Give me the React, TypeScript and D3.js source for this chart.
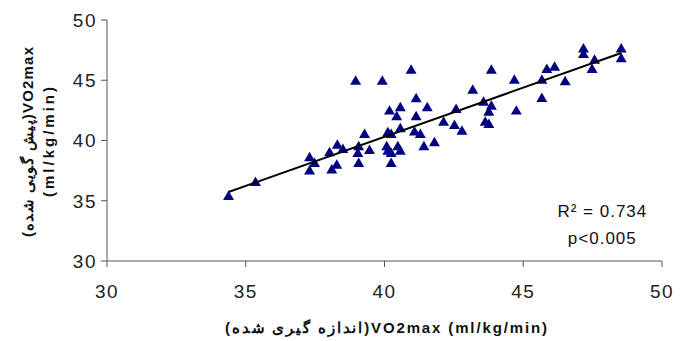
import React from "react";
import { scaleLinear, symbol, symbolTriangle, line } from "d3";

const width = 682;
const height = 341;
const margin = { top: 20, right: 20, bottom: 80, left: 107 };

// measured VO2max (x) vs predicted VO2max (y)
const xMeasured = [
    38.96, 39.92, 40.96, 43.85, 43.18, 41.14, 40.18, 40.57, 41.54, 40.44,
    41.14, 42.58, 43.57, 43.85, 43.76, 42.13, 42.52, 42.79, 43.63, 43.76,
    39.28, 40.12, 40.24, 40.57, 41.08, 41.29, 41.8, 41.42, 38.3, 38.02,
    38.5, 39.07, 39.04, 39.46, 40.08, 40.12, 40.48, 40.57, 40.24, 37.3,
    37.48, 37.3, 38.1, 38.28, 39.07, 40.24, 44.68, 45.85, 46.13, 45.67,
    46.51, 45.67, 47.17, 47.17, 47.57, 47.48, 48.53, 48.53, 44.75, 34.38,
    35.35,
];
const yPredicted = [
    44.89, 44.89, 45.8, 45.8, 44.15, 43.43, 42.41, 42.69, 42.69, 41.94,
    41.94, 42.55, 43.15, 42.82, 42.32, 41.49, 41.22, 40.75, 41.49, 41.3,
    40.48, 40.62, 40.48, 40.95, 40.67, 40.48, 39.79, 39.46, 39.57, 38.96,
    39.23, 39.46, 38.9, 39.15, 39.46, 39.09, 39.46, 39.09, 38.9, 38.55,
    38.07, 37.44, 37.52, 37.91, 38.07, 38.07, 44.97, 45.86, 46.05, 44.97,
    44.84, 43.46, 47.57, 47.1, 46.63, 45.86, 47.57, 46.75, 42.41, 35.32,
    36.48,
];

// trend line
const fitSlope = 0.815;
const fitIntercept = 7.71;

const xTicks = [30, 35, 40, 45, 50];
const yTicks = [30, 35, 40, 45, 50];

const xTitle = "(اندازه گیری شده)VO2max (ml/kg/min)";
const yTitle1 = "(پیش گویی شده)VO2max";
const yTitle2 = "(ml/kg/min)";
const statLines = ["R² = 0.734", "p<0.005"];

const App = () => {
    const innerWidth = 662 - margin.left;
    const innerHeight = 261 - margin.top;

    const xScale = scaleLinear().domain([30, 50]).range([0, innerWidth]);
    const yScale = scaleLinear().domain([30, 50]).range([innerHeight, 0]);

    const marker = symbol().type(symbolTriangle).size(52)();

    const xMin = Math.min(...xMeasured);
    const xMax = Math.max(...xMeasured);
    const fitPath = line<number>()
        .x((d) => xScale(d))
        .y((d) => yScale(fitIntercept + fitSlope * d))([xMin, xMax]);

    const font = "Arial, 'Liberation Sans', sans-serif";

    return (
        <div style={{ position: "absolute", left: 0, top: 0 }}>
            <svg width={width} height={height} style={{ display: "block" }}>
                <rect width={width} height={height} fill="#fff" />
                <g transform={`translate(${margin.left},${margin.top})`}>
                    {/* axes */}
                    <line x1={0} y1={0} x2={0} y2={innerHeight} stroke="#555" />
                    <line
                        x1={0}
                        y1={innerHeight}
                        x2={innerWidth}
                        y2={innerHeight}
                        stroke="#555"
                    />
                    {yTicks.map((t) => (
                        <g key={"y" + t}>
                            <line
                                x1={-6}
                                x2={0}
                                y1={yScale(t)}
                                y2={yScale(t)}
                                stroke="#555"
                            />
                            <text
                                x={-10}
                                y={yScale(t)}
                                dy="0.36em"
                                textAnchor="end"
                                fontFamily={font}
                                fontSize={19}
                                letterSpacing={1.5}
                                fill="#222"
                            >
                                {t}
                            </text>
                        </g>
                    ))}
                    {xTicks.map((t) => (
                        <g key={"x" + t}>
                            <line
                                x1={xScale(t)}
                                x2={xScale(t)}
                                y1={innerHeight}
                                y2={innerHeight + 6}
                                stroke="#555"
                            />
                            <text
                                x={xScale(t)}
                                y={innerHeight + 37}
                                textAnchor="middle"
                                fontFamily={font}
                                fontSize={19}
                                letterSpacing={1.5}
                                fill="#222"
                            >
                                {t}
                            </text>
                        </g>
                    ))}

                    {/* points */}
                    {xMeasured.map((x, i) => (
                        <path
                            key={i}
                            d={marker}
                            transform={`translate(${xScale(x)},${yScale(yPredicted[i])})`}
                            fill="#000080"
                        />
                    ))}

                    <path d={fitPath || ""} fill="none" stroke="#000" strokeWidth={2} />

                    {statLines.map((s, i) => (
                        <text
                            key={s}
                            x={xScale(47.85)}
                            y={yScale(30) - 44 + i * 27}
                            textAnchor="middle"
                            fontFamily={font}
                            fontSize={17}
                            letterSpacing={1}
                            fill="#111"
                        >
                            {s}
                        </text>
                    ))}
                </g>

                <text
                    x={386}
                    y={333}
                    textAnchor="middle"
                    fontFamily={font}
                    fontSize={15}
                    fontWeight="bold"
                    textLength={322}
                    lengthAdjust="spacing"
                    fill="#111"
                >
                    {xTitle}
                </text>
                <g transform="translate(33,142) rotate(-90)">
                    <text
                        x={0}
                        y={0}
                        textAnchor="middle"
                        fontFamily={font}
                        fontSize={15}
                        fontWeight="bold"
                        textLength={190}
                        lengthAdjust="spacing"
                        fill="#111"
                    >
                        {yTitle1}
                    </text>
                    <text
                        x={0}
                        y={21}
                        textAnchor="middle"
                        fontFamily={font}
                        fontSize={15}
                        fontWeight="bold"
                        textLength={110}
                        lengthAdjust="spacing"
                        fill="#111"
                    >
                        {yTitle2}
                    </text>
                </g>
            </svg>
        </div>
    );
};

export default App;
